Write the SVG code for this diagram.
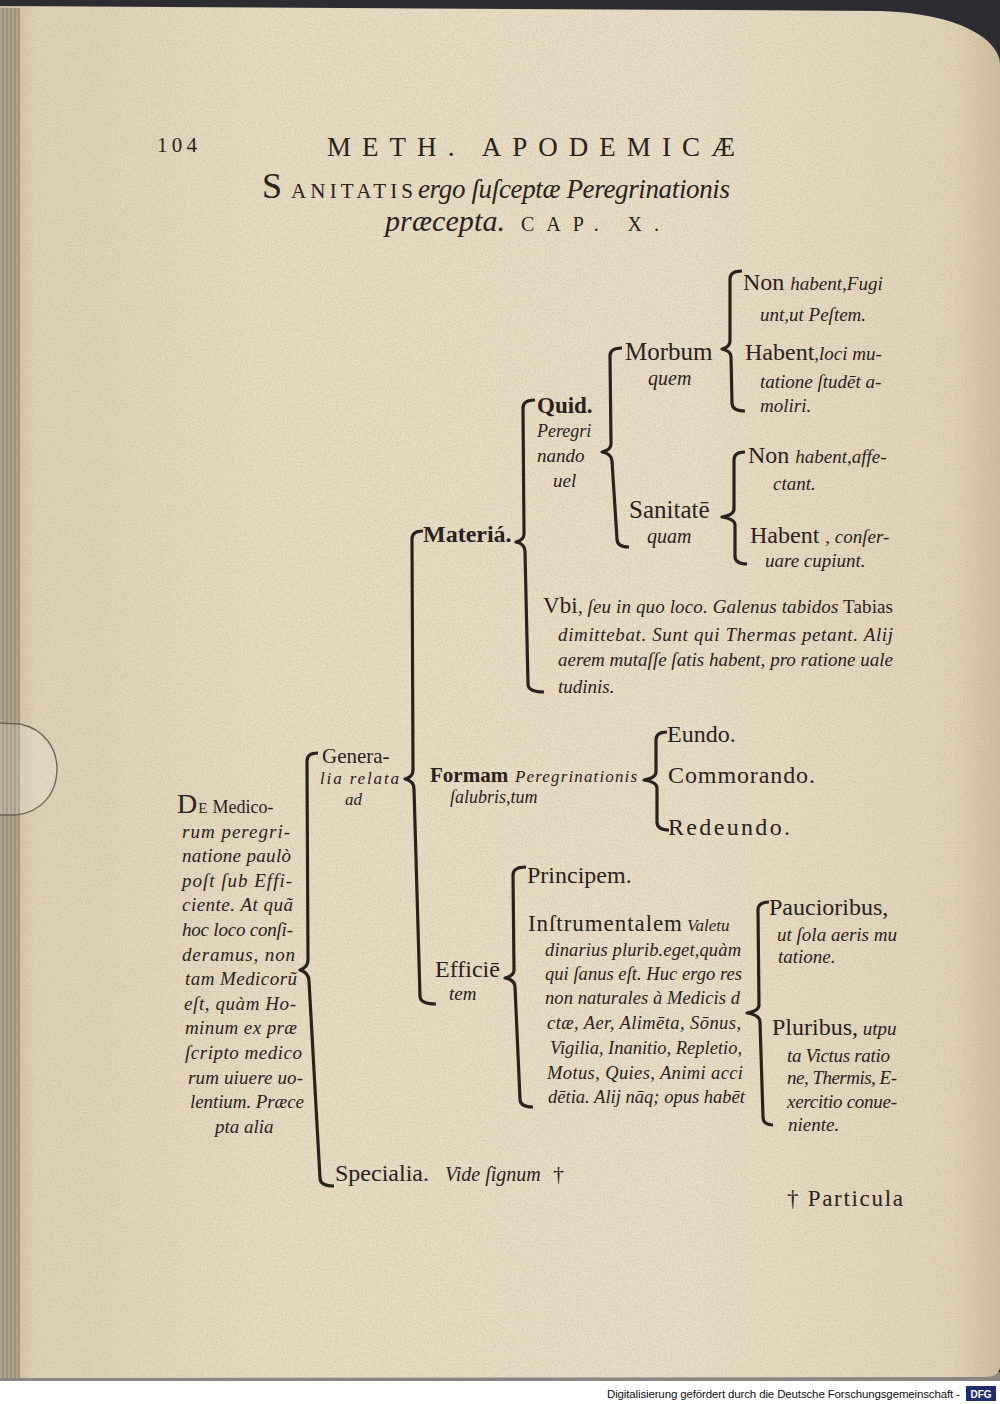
<svg xmlns="http://www.w3.org/2000/svg" width="1000" height="1404" viewBox="0 0 1000 1404">
<defs>
  <linearGradient id="pageH" x1="0" x2="1" y1="0" y2="0">
    <stop offset="0" stop-color="#c9b99d"/>
    <stop offset="0.035" stop-color="#dfd1b6"/>
    <stop offset="0.3" stop-color="#e8dcc3"/>
    <stop offset="0.7" stop-color="#e9ddc5"/>
    <stop offset="0.95" stop-color="#e2d4b9"/>
    <stop offset="1" stop-color="#cdbd9f"/>
  </linearGradient>
  <clipPath id="pageClip">
    <path d="M0,6 L880,11 C930,13 962,22 984,38 C995,47 1000,56 1000,64 L1000,1368 C998,1374 994,1377 985,1377 L0,1378 Z"/>
  </clipPath>
  <filter id="grain" x="0" y="0" width="100%" height="100%">
    <feTurbulence type="fractalNoise" baseFrequency="0.55" numOctaves="2" seed="7"/>
    <feColorMatrix type="matrix" values="0 0 0 0 0.42  0 0 0 0 0.33  0 0 0 0 0.22  0 0 0 0.5 -0.18"/>
  </filter>
</defs>
<style>
  .t{font-family:"Liberation Serif","DejaVu Serif",serif;fill:#2a221c}
  .i{font-style:italic}
  .b{font-weight:bold}
  .br{fill:none;stroke:#2a221c;stroke-width:3.2;stroke-linejoin:round;stroke-linecap:butt}
  .edge{stroke:#8a7c68;stroke-width:1}
</style>

<!-- background -->
<rect x="0" y="0" width="1000" height="1404" fill="#2d2c31"/>
<rect x="0" y="1372" width="1000" height="10" fill="#8b8782"/>
<rect x="0" y="1381" width="1000" height="23" fill="#ffffff"/>

<!-- page -->
<g id="page">
  <path d="M0,6 L880,11 C930,13 962,22 984,38 C995,47 1000,56 1000,64 L1000,1368 C998,1374 994,1377 985,1377 L0,1378 Z" fill="url(#pageH)"/>
  <rect x="0" y="0" width="1000" height="1404" filter="url(#grain)" clip-path="url(#pageClip)"/>
  <rect x="0" y="8" width="19" height="1370" fill="#b3a48c"/>
  <line class="edge" x1="3" y1="8" x2="3" y2="1378"/>
  <line class="edge" x1="7" y1="8" x2="7" y2="1378"/>
  <line class="edge" x1="11" y1="8" x2="11" y2="1378"/>
  <line class="edge" x1="15" y1="8" x2="15" y2="1378"/>
  <line x1="19" y1="8" x2="19" y2="1378" stroke="#9c8d76" stroke-width="1.5"/>
  <path d="M0,723 L20,724 C44,729 57,748 57,769 C57,793 42,812 16,815 L0,815" fill="#ffffff" fill-opacity="0.14" stroke="#6f6458" stroke-width="1.4"/>
</g>

<!-- header -->
<g id="header">
  <text class="t" x="157" y="152" font-size="21" textLength="40">104</text>
  <text class="t" x="327" y="156" font-size="27" textLength="408" lengthAdjust="spacing">METH. APODEMICÆ</text>
  <text class="t" x="262" y="198" font-size="36">S</text>
  <text class="t" x="291" y="198" font-size="21" textLength="122" lengthAdjust="spacing">ANITATIS</text>
  <text class="t i" x="418" y="198" font-size="27" textLength="312">ergo ſuſceptæ Peregrinationis</text>
  <text class="t i" x="385" y="231" font-size="30" textLength="120">præcepta.</text>
  <text class="t" x="521" y="231" font-size="20" textLength="138" lengthAdjust="spacing">CAP. X.</text>
</g>

<!-- connectors: braces -->
<g id="connectors">
  <path class="br" d="M318,753 Q307,753 307,761 L308,960 Q308,967 300,970 Q309,973 309,981 L320,1178 Q320,1186 334,1186"/>
  <path class="br" d="M423,531 Q412,531 412,539 L413,770 Q413,777 405,779 Q414,781 414,789 L420,996 Q420,1004 436,1004"/>
  <path class="br" d="M535,400 Q523,400 523,408 L524,534 Q524,540 516,542 Q525,544 525,551 L528,684 Q528,692 544,692"/>
  <path class="br" d="M622,348 Q610,348 610,356 L611,444 Q611,450 602,452 Q612,454 612,461 L617,539 Q617,547 629,547"/>
  <path class="br" d="M742,271 Q730,271 730,279 L730,341 Q730,347 722,349 Q731,351 731,357 L732,403 Q732,411 745,411"/>
  <path class="br" d="M745,452 Q734,452 734,460 L734,509 Q734,515 722,517 Q735,519 735,525 L735,556 Q735,564 747,564"/>
  <path class="br" d="M667,732 Q656,732 656,740 L656,772 Q656,778 644,780 Q657,782 657,788 L657,822 Q657,830 669,830"/>
  <path class="br" d="M526,867 Q513,867 513,875 L514,970 Q514,976 505,978 Q515,980 515,987 L520,1099 Q520,1107 533,1107"/>
  <path class="br" d="M769,902 Q758,902 758,910 L759,1005 Q759,1011 747,1013 Q760,1015 760,1022 L763,1117 Q763,1125 773,1125"/>
</g>

<!-- root paragraph -->
<g id="node-root">
  <text class="t" x="177" y="813"><tspan font-size="28">D</tspan><tspan font-size="15" dx="1">E</tspan><tspan font-size="18" dx="5">Medico-</tspan></text>
  <text class="t i" x="182" y="838" font-size="19" textLength="108">rum peregri-</text>
  <text class="t i" x="182" y="862" font-size="19" textLength="109">natione paulò</text>
  <text class="t i" x="182" y="887" font-size="19" textLength="110">poſt ſub Effi-</text>
  <text class="t i" x="182" y="911" font-size="19" textLength="111">ciente. At quã</text>
  <text class="t i" x="182" y="936" font-size="19" textLength="111">hoc loco conſi-</text>
  <text class="t i" x="182" y="961" font-size="19" textLength="113">deramus, non</text>
  <text class="t i" x="185" y="985" font-size="19" textLength="112">tam Medicorũ</text>
  <text class="t i" x="184" y="1010" font-size="19" textLength="112">eſt, quàm Ho-</text>
  <text class="t i" x="185" y="1034" font-size="19" textLength="112">minum ex præ</text>
  <text class="t i" x="185" y="1059" font-size="19" textLength="117">ſcripto medico</text>
  <text class="t i" x="188" y="1084" font-size="19" textLength="115">rum uiuere uo-</text>
  <text class="t i" x="190" y="1108" font-size="19" textLength="114">lentium. Præce</text>
  <text class="t i" x="215" y="1133" font-size="19">pta alia</text>
</g>

<g id="node-generalia">
  <text class="t" x="322" y="763" font-size="21">Genera-</text>
  <text class="t i" x="320" y="784" font-size="17" textLength="79">lia relata</text>
  <text class="t i" x="345" y="805" font-size="17">ad</text>
</g>

<g id="node-specialia">
  <text class="t" x="335" y="1181" font-size="24">Specialia.</text>
  <text class="t i" x="445" y="1181" font-size="20">Vide ſignum</text>
  <text class="t" x="553" y="1181" font-size="22">†</text>
</g>

<g id="node-particula">
  <text class="t" x="787" y="1206" font-size="23" textLength="116">† Particula</text>
</g>

<g id="node-materia">
  <text class="t b" x="423" y="542" font-size="24">Materiá.</text>
</g>

<g id="node-quid">
  <text class="t b" x="537" y="413" font-size="23">Quid.</text>
  <text class="t i" x="537" y="437" font-size="18">Peregri</text>
  <text class="t i" x="537" y="462" font-size="19">nando</text>
  <text class="t i" x="553" y="487" font-size="19">uel</text>
</g>

<g id="node-morbum">
  <text class="t" x="625" y="360" font-size="25">Morbum</text>
  <text class="t i" x="648" y="385" font-size="20">quem</text>
</g>

<g id="node-sanitate">
  <text class="t" x="629" y="518" font-size="25">Sanitatē</text>
  <text class="t i" x="647" y="543" font-size="20">quam</text>
</g>

<g id="node-morbum-non">
  <text class="t" x="743" y="290" font-size="24">Non <tspan class="i" font-size="19">habent,Fugi</tspan></text>
  <text class="t i" x="760" y="321" font-size="19">unt,ut Peſtem.</text>
</g>

<g id="node-morbum-habent">
  <text class="t" x="745" y="360" font-size="24">Habent<tspan class="i" font-size="19">,loci mu-</tspan></text>
  <text class="t i" x="760" y="388" font-size="19">tatione ſtudēt a-</text>
  <text class="t i" x="760" y="412" font-size="19">moliri.</text>
</g>

<g id="node-sanitate-non">
  <text class="t" x="748" y="463" font-size="24">Non <tspan class="i" font-size="19">habent,affe-</tspan></text>
  <text class="t i" x="773" y="490" font-size="19">ctant.</text>
</g>

<g id="node-sanitate-habent">
  <text class="t" x="750" y="543" font-size="24">Habent <tspan class="i" font-size="19">, conſer-</tspan></text>
  <text class="t i" x="765" y="567" font-size="19">uare cupiunt.</text>
</g>

<g id="node-ubi">
  <text class="t" x="543" y="613" font-size="19" textLength="350"><tspan font-size="23">Vbi</tspan>, <tspan class="i">ſeu in quo loco. Galenus tabidos</tspan> Tabias</text>
  <text class="t i" x="558" y="641" font-size="19" textLength="335">dimittebat. Sunt qui Thermas petant. Alij</text>
  <text class="t i" x="558" y="666" font-size="19" textLength="335">aerem mutaſſe ſatis habent, pro ratione uale</text>
  <text class="t i" x="558" y="693" font-size="19">tudinis.</text>
</g>

<g id="node-formam">
  <text class="t b" x="430" y="782" font-size="21">Formam</text>
  <text class="t i" x="515" y="782" font-size="17" textLength="122">Peregrinationis</text>
  <text class="t i" x="450" y="803" font-size="18">ſalubris,tum</text>
</g>

<g id="node-eundo"><text class="t" x="667" y="742" font-size="24">Eundo.</text></g>
<g id="node-commorando"><text class="t" x="668" y="783" font-size="24" textLength="147">Commorando.</text></g>
<g id="node-redeundo"><text class="t" x="668" y="835" font-size="24" textLength="122">Redeundo.</text></g>

<g id="node-efficientem">
  <text class="t" x="435" y="977" font-size="24">Efficiē</text>
  <text class="t i" x="449" y="1000" font-size="19">tem</text>
</g>

<g id="node-principem">
  <text class="t" x="527" y="883" font-size="24">Principem.</text>
</g>

<g id="node-instrumentalem">
  <text class="t" x="528" y="931" font-size="23" textLength="154">Inſtrumentalem</text>
  <text class="t i" x="687" y="931" font-size="17">Valetu</text>
  <text class="t i" x="545" y="956" font-size="18.5" textLength="196">dinarius plurib.eget,quàm</text>
  <text class="t i" x="545" y="980" font-size="18.5" textLength="197">qui ſanus eſt. Huc ergo res</text>
  <text class="t i" x="545" y="1004" font-size="18.5" textLength="195">non naturales à Medicis d</text>
  <text class="t i" x="547" y="1029" font-size="18.5" textLength="194">ctæ, Aer, Alimēta, Sōnus,</text>
  <text class="t i" x="550" y="1054" font-size="18.5" textLength="192">Vigilia, Inanitio, Repletio,</text>
  <text class="t i" x="547" y="1079" font-size="18.5" textLength="196">Motus, Quies, Animi acci</text>
  <text class="t i" x="548" y="1103" font-size="18.5" textLength="197">dētia. Alij nāq; opus habēt</text>
</g>

<g id="node-paucioribus">
  <text class="t" x="769" y="915" font-size="24">Paucioribus,</text>
  <text class="t i" x="777" y="941" font-size="19" textLength="120">ut ſola aeris mu</text>
  <text class="t i" x="778" y="963" font-size="19">tatione.</text>
</g>

<g id="node-pluribus">
  <text class="t" x="772" y="1035" font-size="24">Pluribus,<tspan class="i" font-size="19"> utpu</tspan></text>
  <text class="t i" x="787" y="1062" font-size="19" textLength="103">ta Victus ratio</text>
  <text class="t i" x="787" y="1084" font-size="19" textLength="110">ne, Thermis, E-</text>
  <text class="t i" x="787" y="1108" font-size="19" textLength="110">xercitio conue-</text>
  <text class="t i" x="788" y="1131" font-size="19">niente.</text>
</g>

<!-- footer -->
<g id="footer">
  <text x="607" y="1398" font-family="'Liberation Sans', Arial, sans-serif" font-size="11.5" fill="#111" textLength="353">Digitalisierung gefördert durch die Deutsche Forschungsgemeinschaft -</text>
  <rect x="966" y="1386" width="30" height="15" fill="#1f2d6e"/>
  <text x="981" y="1398" text-anchor="middle" font-family="'Liberation Sans', Arial, sans-serif" font-size="10" font-weight="bold" fill="#ffffff">DFG</text>
</g>
</svg>
